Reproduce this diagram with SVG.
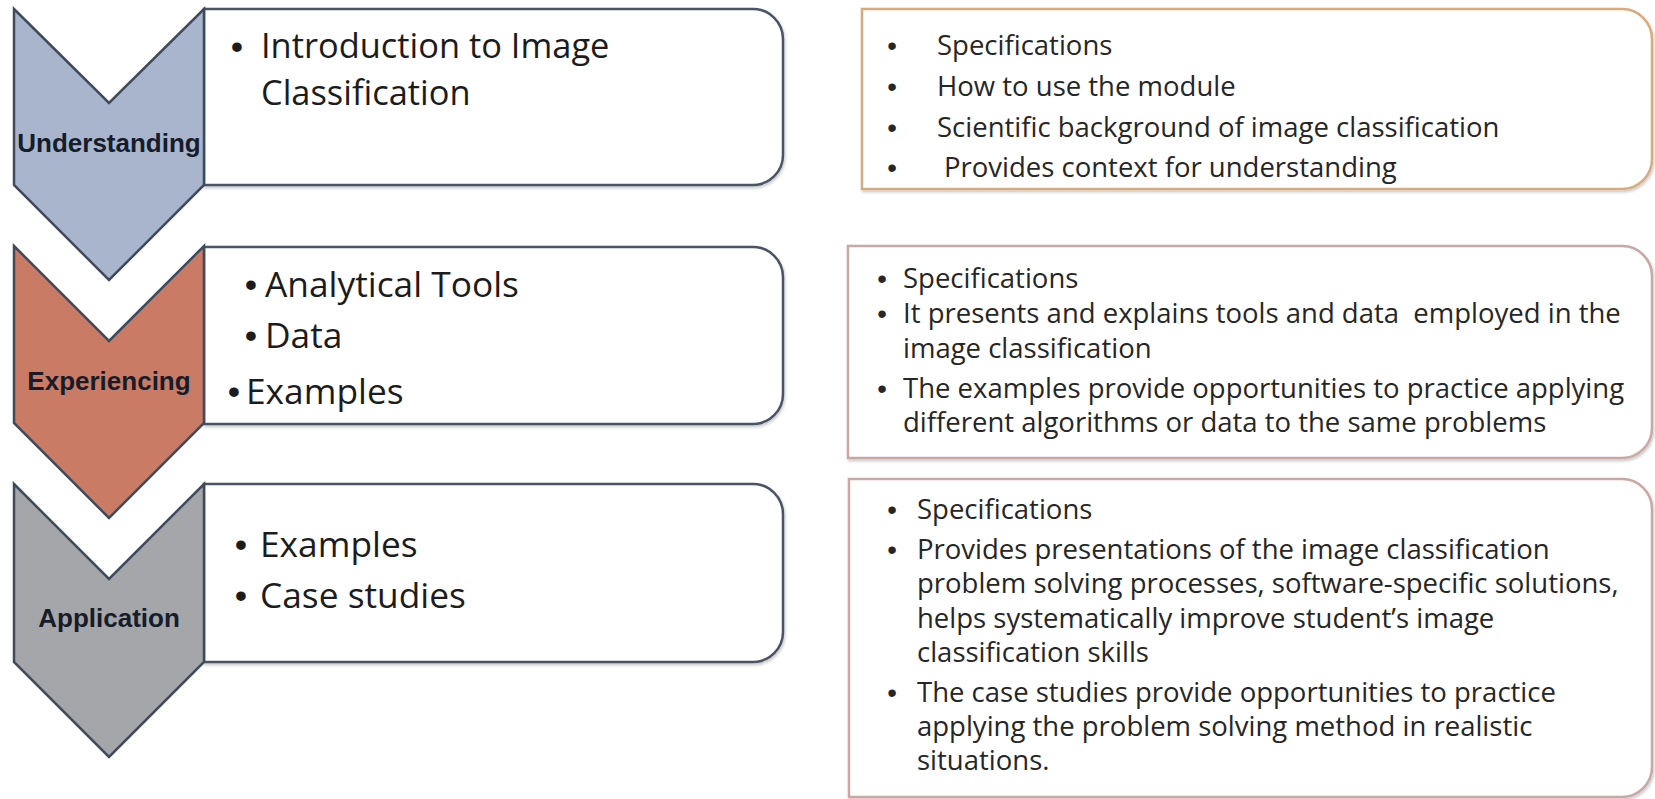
<svg xmlns="http://www.w3.org/2000/svg" width="1655" height="799" viewBox="0 0 1655 799">
  <defs>
    <filter id="soft" x="-5%" y="-5%" width="110%" height="115%">
      <feDropShadow dx="1" dy="2" stdDeviation="1.5" flood-color="#000000" flood-opacity="0.22"/>
    </filter>
  </defs>
  <style>
    .stage { stroke: #3f4a5c; stroke-width: 2.5; stroke-linejoin: miter; }
    .u { fill: #a9b5cc; }
    .e { fill: #c97b66; }
    .a { fill: #a5a6aa; }
    .label { font-family: "Liberation Sans", Arial, sans-serif; font-weight: bold; font-size: 26px; fill: #161c2a; text-anchor: middle; }
    .panel { fill: #ffffff; stroke: #4a5466; stroke-width: 2.5; filter: url(#soft); }
    .big { font-family: "Open Sans", Lato, sans-serif; font-size: 35.3px; fill: #1c1c1c; }
    .tight { font-size: 34.4px; }
    .note1 { fill: #ffffff; stroke: #d8aa7c; stroke-width: 2.5; filter: url(#soft); }
    .note2 { fill: #ffffff; stroke: #c9a7a4; stroke-width: 2.5; filter: url(#soft); }
    .small { font-family: "Open Sans", Lato, sans-serif; font-size: 27.5px; fill: #262626; }
    .dot { text-anchor: middle; font-family: "Liberation Sans", Arial, sans-serif; }
  </style>

  <!-- content panels beside the stages -->
  <g id="panel-understanding">
    <path class="panel" d="M204,9 H753 A30,30 0 0 1 783,39 V155 A30,30 0 0 1 753,185 H204 Z"/>
    <text class="big dot" x="237" y="59">•</text>
    <text class="big tight" x="261" y="58">Introduction to Image</text>
    <text class="big tight" x="261" y="105">Classification</text>
  </g>
  <g id="panel-experiencing">
    <path class="panel" d="M204,247 H753 A30,30 0 0 1 783,277 V394 A30,30 0 0 1 753,424 H204 Z"/>
    <text class="big dot" x="251" y="297">•</text>
    <text class="big" x="265" y="297">Analytical Tools</text>
    <text class="big dot" x="251" y="348">•</text>
    <text class="big" x="265" y="348">Data</text>
    <text class="big dot" x="234" y="404">•</text>
    <text class="big" x="246" y="404">Examples</text>
  </g>
  <g id="panel-application">
    <path class="panel" d="M204,484 H753 A30,30 0 0 1 783,514 V632 A30,30 0 0 1 753,662 H204 Z"/>
    <text class="big dot" x="241" y="557">•</text>
    <text class="big" x="260" y="557">Examples</text>
    <text class="big dot" x="241" y="608">•</text>
    <text class="big" x="260" y="608">Case studies</text>
  </g>

  <!-- chevron stages -->
  <g id="stage-understanding">
    <path class="stage u" d="M14,9 L109,103 L204,9 L204,185 L109,280 L14,185 Z"/>
    <text class="label" x="109" y="152">Understanding</text>
  </g>
  <g id="stage-experiencing">
    <path class="stage e" d="M14,246 L109,341 L204,246 L204,423 L109,518 L14,423 Z"/>
    <text class="label" x="109" y="390">Experiencing</text>
  </g>
  <g id="stage-application">
    <path class="stage a" d="M14,484 L109,579 L204,484 L204,662 L109,757 L14,662 Z"/>
    <text class="label" x="109" y="627">Application</text>
  </g>

  <!-- description boxes on the right -->
  <g id="notes-understanding">
    <path class="note1" d="M862,9 H1622 A30,30 0 0 1 1652,39 V159 A30,30 0 0 1 1622,189 H862 Z"/>
    <text class="small dot" x="892" y="55">•</text>
    <text class="small" x="937" y="55">Specifications</text>
    <text class="small dot" x="892" y="96">•</text>
    <text class="small" x="937" y="96">How to use the module</text>
    <text class="small dot" x="892" y="137">•</text>
    <text class="small" x="937" y="137">Scientific background of image classification</text>
    <text class="small dot" x="892" y="177">•</text>
    <text class="small" x="944" y="177">Provides context for understanding</text>
  </g>
  <g id="notes-experiencing">
    <path class="note2" d="M848,246 H1622 A30,30 0 0 1 1652,276 V428 A30,30 0 0 1 1622,458 H848 Z"/>
    <text class="small dot" x="882" y="288">•</text>
    <text class="small" x="903" y="288">Specifications</text>
    <text class="small dot" x="882" y="323">•</text>
    <text class="small" x="903" y="323" xml:space="preserve">It presents and explains tools and data  employed in the</text>
    <text class="small" x="903" y="358">image classification</text>
    <text class="small dot" x="882" y="398">•</text>
    <text class="small" x="903" y="398">The examples provide opportunities to practice applying</text>
    <text class="small" x="903" y="432">different algorithms or data to the same problems</text>
  </g>
  <g id="notes-application">
    <path class="note2" d="M849,479 H1622 A30,30 0 0 1 1652,509 V767 A30,30 0 0 1 1622,797 H849 Z"/>
    <text class="small dot" x="892" y="519">•</text>
    <text class="small" x="917" y="519">Specifications</text>
    <text class="small dot" x="892" y="559">•</text>
    <text class="small" x="917" y="559">Provides presentations of the image classification</text>
    <text class="small" x="917" y="593">problem solving processes, software-specific solutions,</text>
    <text class="small" x="917" y="628">helps systematically improve student’s image</text>
    <text class="small" x="917" y="662">classification skills</text>
    <text class="small dot" x="892" y="702">•</text>
    <text class="small" x="917" y="702">The case studies provide opportunities to practice</text>
    <text class="small" x="917" y="736">applying the problem solving method in realistic</text>
    <text class="small" x="917" y="770">situations.</text>
  </g>
</svg>
